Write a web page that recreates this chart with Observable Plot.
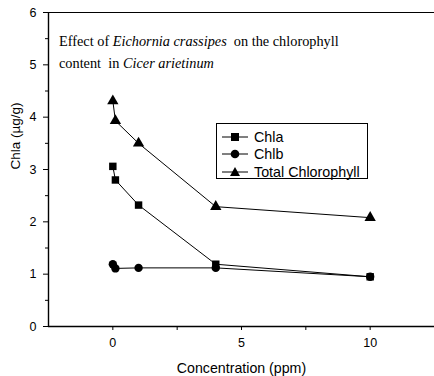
<!DOCTYPE html>
<html>
<head>
<meta charset="utf-8">
<script src="https://cdn.jsdelivr.net/npm/d3@7"></script>
<script src="https://cdn.jsdelivr.net/npm/@observablehq/plot@0.6"></script>
<style>
  body { margin: 0; background: #fff; }
  #wrap { position: relative; width: 434px; height: 376px; overflow: hidden; }
  #title { position: absolute; left: 59px; top: 30px; font-family: "Liberation Serif", serif; font-size: 14.3px; line-height: 22px; color: #000; white-space: nowrap; }
  #legend { position: absolute; left: 216px; top: 123px; width: 152px; height: 56px; border: 1px solid #000; box-sizing: border-box; font-family: "Liberation Sans", Arial, sans-serif; font-size: 14.3px; background: #fff; }
  #legend .row { position: absolute; left: 5px; height: 17px; display: flex; align-items: center; }
  #legend svg { margin-right: 6px; }
</style>
</head>
<body>
<div id="wrap">
  <div id="chart"></div>
  <div id="title">Effect of <i>Eichornia crassipes</i>&nbsp; on the chlorophyll<br>content&nbsp; in <i>Cicer arietinum</i></div>
  <div id="legend"></div>
</div>
<script>
const conc = [0, 0.1, 1, 4, 10];
const chla = [3.06, 2.80, 2.32, 1.19, 0.95];
const chlb = [1.19, 1.11, 1.12, 1.12, 0.95];
const total = [4.31, 3.93, 3.50, 2.29, 2.08];
const seriesNames = ["Chla", "Chlb", "Total Chlorophyll"];
const seriesSymbols = ["square", "circle", "triangle"];
const xTicks = [0, 5, 10];
const xMinor = [2.5, 7.5];
const yTicks = [0, 1, 2, 3, 4, 5, 6];
const yMinor = [0.5, 1.5, 2.5, 3.5, 4.5, 5.5];

const allSeries = [chla, chlb, total];
const data = allSeries.flatMap((vals, i) => vals.map((v, j) => ({x: conc[j], y: v, s: seriesNames[i]})));
const xAll = [...xTicks, ...xMinor].sort((a, b) => a - b);

const font = "Liberation Sans, Arial, sans-serif";
const chart = Plot.plot({
  width: 434,
  height: 376,
  marginLeft: 48,
  marginRight: 0,
  marginTop: 12,
  marginBottom: 50,
  style: {fontFamily: font, fontSize: "12px", color: "#000", background: "#fff"},
  x: {domain: [-2.5, 12.5], label: null},
  y: {domain: [0, 6], label: null},
  symbol: {domain: seriesNames, range: seriesSymbols},
  marks: [
    Plot.ruleY([6], {stroke: "#000", strokeWidth: 1}),
    Plot.ruleY([0], {stroke: "#000", strokeWidth: 1.4}),
    Plot.ruleX([-2.5], {stroke: "#000", strokeWidth: 1.4}),
    Plot.axisX(xAll, {tickSize: 4, tickPadding: 8, tickFormat: d => (xTicks.includes(d) ? String(d) : ""), label: null, fontSize: 12.5}),
    Plot.axisY(yTicks, {tickSize: 5, tickPadding: 7, tickFormat: d => String(d), label: null, fontSize: 12.5}),
    Plot.axisY(yMinor, {tickSize: 3, tickFormat: () => "", label: null}),
    Plot.line(data, {x: "x", y: "y", z: "s", stroke: "#000", strokeWidth: 1}),
    Plot.dot(data, {x: "x", y: "y", symbol: "s", r: 4.2, fill: "#000", stroke: "none"}),
    Plot.text(["Concentration (ppm)"], {frameAnchor: "bottom", dy: 46, fontSize: 14.2, fill: "#000"}),
    Plot.text(["Chla (µg/g)"], {frameAnchor: "left", dx: -33, rotate: -90, fontSize: 13.5, fill: "#000"})
  ]
});
document.getElementById("chart").appendChild(chart);

const legend = document.getElementById("legend");
const symPaths = {
  square: '<rect x="9" y="4" width="8" height="8" fill="#000"/>',
  circle: '<circle cx="13" cy="8" r="4.3" fill="#000"/>',
  triangle: '<path d="M13,3 L18,12 L8,12 Z" fill="#000"/>'
};
seriesNames.forEach((name, i) => {
  const row = document.createElement("div");
  row.className = "row";
  row.style.top = (4 + i * 17.5) + "px";
  row.innerHTML = '<svg width="26" height="16"><line x1="0" y1="8" x2="26" y2="8" stroke="#000" stroke-width="1"/>' + symPaths[seriesSymbols[i]] + '</svg><span>' + name + '</span>';
  legend.appendChild(row);
});
</script>
</body>
</html>
